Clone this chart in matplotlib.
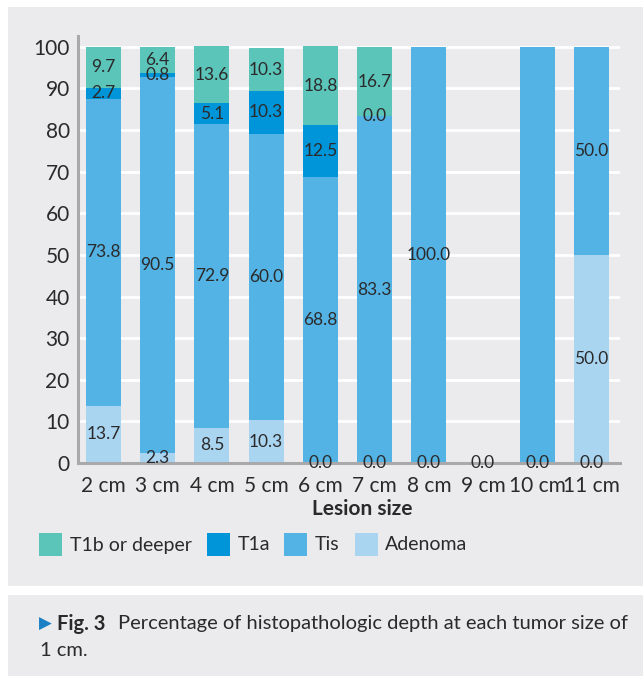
import matplotlib
matplotlib.use("Agg")
import matplotlib.pyplot as plt
from matplotlib import font_manager as fm
from matplotlib.patches import Rectangle
import numpy as np

# ---------------- data ----------------
sizes = ['2 cm', '3 cm', '4 cm', '5 cm', '6 cm', '7 cm', '8 cm', '9 cm', '10 cm', '11 cm']
adenoma = [13.7, 2.3, 8.5, 10.3, 0.0, 0.0, 0.0, 0.0, 0.0, 50.0]
tis = [73.8, 90.5, 72.9, 68.8, 68.8, 83.3, 100.0, 0.0, 100.0, 50.0]
t1a = [2.7, 0.8, 5.1, 10.3, 12.5, 0.0, 0.0, 0.0, 0.0, 0.0]
t1b = [9.7, 6.4, 13.6, 10.3, 18.8, 16.7, 0.0, 0.0, 0.0, 0.0]

adenoma_labels = ['13.7', '2.3', '8.5', '10.3', '0.0', '0.0', '0.0', '0.0', '0.0', '50.0']
tis_labels = ['73.8', '90.5', '72.9', '60.0', '68.8', '83.3', '100.0', '', '', '50.0']
t1a_labels = ['2.7', '0.8', '5.1', '10.3', '12.5', '0.0', '', '', '', '']
t1b_labels = ['9.7', '6.4', '13.6', '10.3', '18.8', '16.7', '', '', '', '']
baseline_labels = ['', '', '', '', '', '', '', '', '', '0.0']

series_names = ['T1b or deeper', 'T1a', 'Tis', 'Adenoma']
yticks = [0, 10, 20, 30, 40, 50, 60, 70, 80, 90, 100]
xlabel = 'Lesion size'
caption_fig = 'Fig. 3'
caption_line1 = 'Percentage of histopathologic depth at each tumor size of'
caption_line2 = '1 cm.'

# ---------------- style ----------------
C_T1B = '#5CC5BA'
C_T1A = '#0095D9'
C_TIS = '#53B3E5'
C_ADE = '#A9D5F1'
BG = '#EBEBED'
TXT = '#2B2A2A'
SPINE = '#A9A9AB'

available = {f.name for f in fm.fontManager.ttflist}
font = 'DejaVu Sans'
for cand in ['Liberation Sans Narrow', 'Lato', 'Open Sans', 'Noto Sans']:
    if cand in available:
        font = cand
        break
plt.rcParams['font.family'] = [font, 'DejaVu Sans']

W, H = 643, 676
fig = plt.figure(figsize=(W / 100, H / 100), dpi=100, facecolor='white')

def fx(px):
    return px / W

def fy(py):
    return 1 - py / H

# background panels
fig.patches.append(Rectangle((fx(8), fy(586)), fx(643) - fx(8), fy(7) - fy(586),
                             transform=fig.transFigure, facecolor=BG, edgecolor='none', zorder=-5))
fig.patches.append(Rectangle((fx(8), fy(676)), fx(643) - fx(8), fy(595) - fy(676),
                             transform=fig.transFigure, facecolor=BG, edgecolor='none', zorder=-5))

ax = fig.add_axes([fx(78), fy(463), fx(620) - fx(78), fy(36) - fy(463)])
ax.set_facecolor('none')
ax.set_zorder(1)

x = np.arange(len(sizes))
width = 0.646
ade = np.array(adenoma)
ts = np.array(tis)
ta = np.array(t1a)
tb = np.array(t1b)

ax.bar(x, ade, width, color=C_ADE, zorder=3)
ax.bar(x, ts, width, bottom=ade, color=C_TIS, zorder=3)
ax.bar(x, ta, width, bottom=ade + ts, color=C_T1A, zorder=3)
ax.bar(x, tb, width, bottom=ade + ts + ta, color=C_T1B, zorder=3)

label_fs = 12.5
def put_labels(vals, bottoms, labels):
    for xi, v, b, lab in zip(x, vals, bottoms, labels):
        if lab:
            ax.text(xi, b + v / 2, lab, ha='center', va='center',
                    fontsize=label_fs, color=TXT, zorder=5)

put_labels(ade, np.zeros_like(ade), adenoma_labels)
put_labels(ts, ade, tis_labels)
put_labels(ta, ade + ts, t1a_labels)
put_labels(tb, ade + ts + ta, t1b_labels)
put_labels(np.zeros_like(ade), np.zeros_like(ade), baseline_labels)

ax.set_xlim(-0.47, 9.526)
ax.set_ylim(0, 102.6)
ax.set_yticks(yticks)
ax.set_xticks(x)
ax.set_xticklabels(sizes)
ax.tick_params(axis='both', length=0, labelsize=15, colors=TXT)
ax.tick_params(axis='y', pad=6)
ax.tick_params(axis='x', pad=9)
ax.yaxis.grid(True, color='white', linewidth=2.0, zorder=1)
ax.set_axisbelow(True)
for s in ['top', 'right']:
    ax.spines[s].set_visible(False)
for s in ['left', 'bottom']:
    ax.spines[s].set_color(SPINE)
    ax.spines[s].set_linewidth(2.2)
    ax.spines[s].set_zorder(4)

fig.text(fx(362), fy(509), xlabel, ha='center', va='center', fontsize=15,
         fontweight='bold', color=TXT)

# legend (manual)
leg_items = [(series_names[0], C_T1B, 39, 70), (series_names[1], C_T1A, 207, 238),
             (series_names[2], C_TIS, 284, 315), (series_names[3], C_ADE, 355, 385)]
for name, col, sx, tx in leg_items:
    fig.patches.append(Rectangle((fx(sx), fy(556)), fx(23), fy(533) - fy(556),
                                 transform=fig.transFigure, facecolor=col, edgecolor='none', zorder=2))
    fig.text(fx(tx), fy(545), name, ha='left', va='center', fontsize=14, color=TXT)

# caption
fig.text(fx(39), fy(624), '\u25B6', ha='left', va='center', fontsize=12,
         color='#1B7FC4', family='DejaVu Sans')
fig.text(fx(57), fy(624), caption_fig, ha='left', va='center', fontsize=14.5,
         fontweight='bold', color=TXT)
fig.text(fx(118), fy(624), caption_line1, ha='left', va='center', fontsize=14.5, color=TXT)
fig.text(fx(40), fy(651), caption_line2, ha='left', va='center', fontsize=14.5, color=TXT)

fig.savefig('out.png', dpi=100, facecolor='white')
